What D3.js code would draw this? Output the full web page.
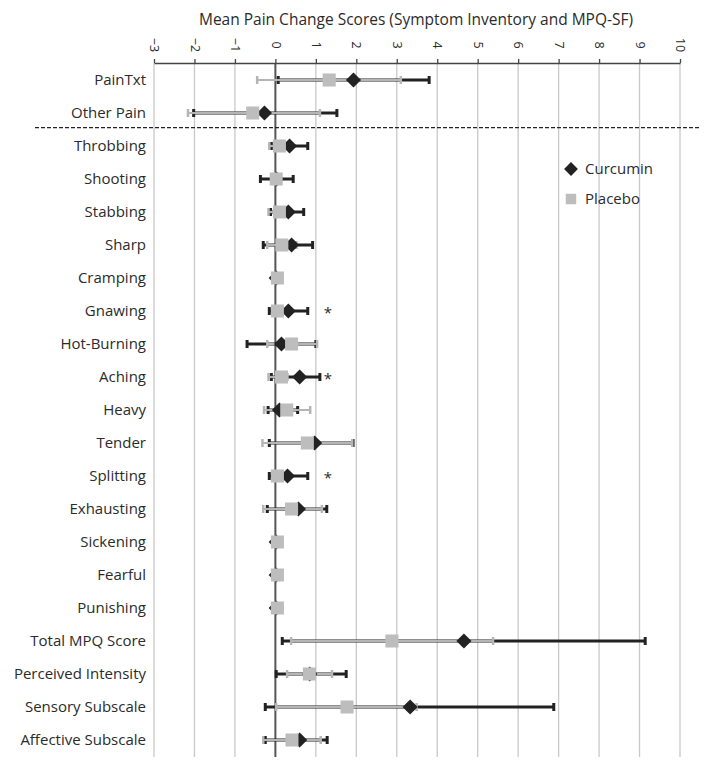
<!DOCTYPE html>
<html><head><meta charset="utf-8">
<script src="https://cdn.jsdelivr.net/npm/d3@7"></script>
<style>
body{margin:0;background:#fff;}
svg{display:block;font-family:"Open Sans",sans-serif;}
</style></head>
<body><svg id="chart" width="704" height="766"></svg>
<script>
const categories = ["PainTxt","Other Pain","Throbbing","Shooting","Stabbing","Sharp","Cramping","Gnawing","Hot-Burning","Aching","Heavy","Tender","Splitting","Exhausting","Sickening","Fearful","Punishing","Total MPQ Score","Perceived Intensity","Sensory Subscale","Affective Subscale"];
const curcuminMean = [1.93,-0.27,0.35,0.03,0.32,0.40,0.02,0.32,0.15,0.60,0.10,0.97,0.30,0.57,0.02,0.02,0.02,4.66,0.85,3.33,0.60];
const curcuminLow  = [0.07,-2.02,-0.10,-0.37,-0.12,-0.30,0.00,-0.15,-0.70,-0.10,-0.18,-0.15,-0.15,-0.20,0.00,0.00,0.00,0.17,0.02,-0.25,-0.25];
const curcuminHigh = [3.80,1.52,0.80,0.44,0.70,0.92,0.05,0.80,1.00,1.10,0.55,1.92,0.80,1.27,0.05,0.05,0.05,9.14,1.75,6.88,1.28];
const placeboMean  = [1.33,-0.56,0.10,0.02,0.10,0.16,0.05,0.05,0.40,0.15,0.28,0.79,0.05,0.40,0.05,0.05,0.05,2.88,0.84,1.77,0.41];
const placeboLow   = [-0.45,-2.16,-0.15,-0.05,-0.17,-0.20,0.02,-0.05,-0.20,-0.17,-0.28,-0.32,-0.05,-0.30,0.02,0.02,0.02,0.39,0.29,0.02,-0.30];
const placeboHigh  = [3.10,1.10,0.20,0.10,0.25,0.52,0.08,0.15,1.03,0.30,0.86,1.90,0.15,1.15,0.08,0.08,0.08,5.38,1.40,3.49,1.12];
const significant  = ["Gnawing","Aching","Splitting"];
const tickValues   = [-3,-2,-1,0,1,2,3,4,5,6,7,8,9,10];
const title = "Mean Pain Change Scores (Symptom Inventory and MPQ-SF)";
const seriesNames = ["Curcumin","Placebo"];

const svg = d3.select("#chart");
const x = d3.scaleLinear().domain([-3,10]).range([154,680]);
const y = d3.scalePoint().domain(categories).range([80,740]);
const axisY = 63, gridBottom = 757;
const textColor = "#2b2b2b";

// title
svg.append("text").attr("x",416).attr("y",25).attr("text-anchor","middle")
  .attr("font-size",15.5).attr("fill",textColor).text(title);

// gridlines
svg.append("g").selectAll("line").data(tickValues).join("line")
  .attr("x1",d=>x(d)).attr("x2",d=>x(d)).attr("y1",axisY).attr("y2",gridBottom)
  .attr("stroke",d=>d===0?"#555":"#c9c9c9").attr("stroke-width",d=>d===0?2:1.3);

// top axis
const ax = svg.append("g").attr("transform",`translate(0,${axisY})`)
  .call(d3.axisTop(x).tickValues(tickValues).tickSize(4).tickSizeOuter(0).tickFormat(d3.format("d")));
ax.select(".domain").attr("stroke","#444").attr("stroke-width",1.5);
ax.selectAll(".tick line").attr("stroke","#444").attr("stroke-width",1.3);
ax.selectAll(".tick text").attr("y",0).attr("dy","0.35em")
  .attr("transform","translate(0,-18) rotate(90)").attr("text-anchor","middle")
  .attr("font-size",12.5).attr("fill",textColor).attr("font-family","'Open Sans',sans-serif");

// dashed separator
svg.append("line").attr("x1",35).attr("x2",700).attr("y1",127.7).attr("y2",127.7)
  .attr("stroke","#222").attr("stroke-width",1.3).attr("stroke-dasharray","4,2");

// row labels
svg.append("g").selectAll("text").data(categories).join("text")
  .attr("x",146).attr("y",d=>y(d)).attr("dy","0.36em").attr("text-anchor","end")
  .attr("font-size",15).attr("fill",textColor).text(d=>d);

const rows = categories.map((c,i)=>({c,cm:curcuminMean[i],cl:curcuminLow[i],ch:curcuminHigh[i],pm:placeboMean[i],pl:placeboLow[i],ph:placeboHigh[i]}));

function errorBars(key, lo, hi, color, w, capW){
  const g = svg.append("g");
  g.selectAll("line.bar").data(rows).join("line").attr("class","bar")
    .attr("x1",d=>x(d[lo])).attr("x2",d=>x(d[hi])).attr("y1",d=>y(d.c)).attr("y2",d=>y(d.c))
    .attr("stroke",color).attr("stroke-width",w);
  [lo,hi].forEach(k=>{
    g.selectAll("line.cap"+k).data(rows).join("line").attr("class","cap"+k)
      .attr("x1",d=>x(d[k])).attr("x2",d=>x(d[k])).attr("y1",d=>y(d.c)-4).attr("y2",d=>y(d.c)+4)
      .attr("stroke",color).attr("stroke-width",capW);
  });
}
errorBars("c","cl","ch","#222",3,3);
errorBars("p","pl","ph","#b5b5b5",2.2,2.5);

const diamond = d3.symbol().type(d3.symbolSquare).size(115);
const square = d3.symbol().type(d3.symbolSquare).size(170);

svg.append("g").selectAll("path").data(rows).join("path")
  .attr("d",diamond).attr("transform",d=>`translate(${x(d.cm)},${y(d.c)}) rotate(45)`)
  .attr("fill","#222");
svg.append("g").selectAll("path").data(rows).join("path")
  .attr("d",square).attr("transform",d=>`translate(${x(d.pm)},${y(d.c)})`)
  .attr("fill","#bdbdbd");

// significance asterisks
svg.append("g").selectAll("text").data(significant).join("text")
  .attr("x",328).attr("y",d=>y(d)+7).attr("text-anchor","middle")
  .attr("font-size",15).attr("fill",textColor).text("*");

// legend
const leg = svg.append("g");
leg.append("path").attr("d",d3.symbol().type(d3.symbolSquare).size(95))
  .attr("transform","translate(571,169) rotate(45)").attr("fill","#222");
leg.append("path").attr("d",d3.symbol().type(d3.symbolSquare).size(110))
  .attr("transform","translate(571,199)").attr("fill","#bdbdbd");
leg.selectAll("text").data(seriesNames).join("text")
  .attr("x",585).attr("y",(d,i)=>169+i*30).attr("dy","0.36em")
  .attr("font-size",15).attr("fill",textColor).text(d=>d);
</script></body></html>
